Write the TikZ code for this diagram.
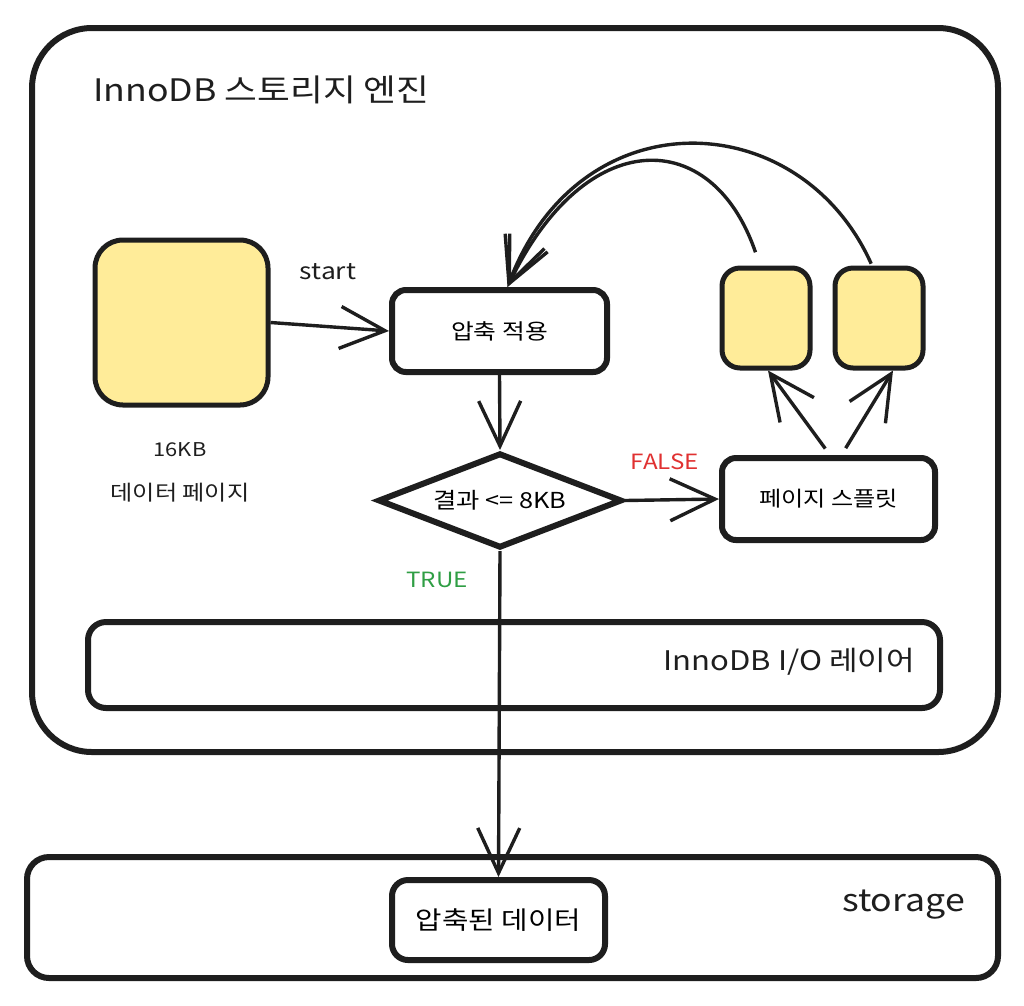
\documentclass[tikz,border=0pt]{standalone}
\usepackage{fontspec}
\setmainfont[FakeStretch=1.15]{Noto Sans CJK KR}
\usetikzlibrary{shapes.geometric,arrows.meta}
\definecolor{ink}{HTML}{1E1E1E}
\definecolor{note}{HTML}{FFEC99}
\definecolor{falsered}{HTML}{E03131}
\definecolor{truegreen}{HTML}{2F9E44}
\begin{document}
\begin{tikzpicture}[x=1pt,y=-1pt,
  frame/.style={draw=ink, line width=6pt, inner sep=0pt},
  box/.style={draw=ink, line width=6pt, rounded corners=14pt, inner sep=0pt, fill=white},
  paper/.style={draw=ink, line width=5pt, fill=note, inner sep=0pt},
  conn/.style={draw=ink, line width=3.4pt, -{Straight Barb[length=45pt,width=42pt,line width=3.4pt]}},
  lbl/.style={text=ink, inner sep=0pt, font=\fontsize{21}{25}\selectfont},
]
\useasboundingbox (0,0) rectangle (1024,1005);
% outer engine frame
\node[frame, rounded corners=60pt, minimum width=966pt, minimum height=724pt] (eng) at (515,390) {};
\node[lbl, anchor=west, font=\fontsize{31}{36}\selectfont] (title) at (93,90) {InnoDB 스토리지 엔진};
% 16KB page
\node[paper, rounded corners=28pt, minimum width=173pt, minimum height=165pt] (pg) at (181.5,322.5) {};
\node[lbl, font=\fontsize{19}{23}\selectfont] (kb) at (180,450) {16KB};
\node[lbl] (pglbl) at (180,493) {데이터 페이지};
% apply compression
\node[box, minimum width=215pt, minimum height=82pt, font=\fontsize{21.5}{25}\selectfont] (ap) at (499.5,331) {압축 적용};
% decision
\node[draw=ink, line width=6pt, diamond, shape aspect=2.57, fill=white, inner sep=0pt, minimum width=244pt, minimum height=95pt, font=\fontsize{22}{26}\selectfont] (dm) at (500,500.5) {결과 <= 8KB};
% split
\node[box, minimum width=213pt, minimum height=82pt, font=\fontsize{21}{25}\selectfont] (sp) at (828.5,499) {페이지 스플릿};
% split pages
\node[paper, rounded corners=18pt, minimum width=88pt, minimum height=100pt] (s1) at (766,318) {};
\node[paper, rounded corners=18pt, minimum width=88pt, minimum height=100pt] (s2) at (879,318) {};
% labels
\node[lbl, font=\fontsize{23}{27}\selectfont] (st) at (328,272) {start};
\node[lbl, text=falsered] (fl) at (665,462) {FALSE};
\node[lbl, text=truegreen] (tr) at (437,580) {TRUE};
% IO layer
\node[box, rounded corners=18pt, minimum width=852pt, minimum height=86pt] (io) at (514,665) {};
\node[lbl, anchor=east, font=\fontsize{27}{31}\selectfont] (iol) at (915,662) {InnoDB I/O 레이어};
% storage
\node[box, rounded corners=22pt, minimum width=971pt, minimum height=121pt] (stor) at (512.5,917.5) {};
\node[lbl, anchor=east, font=\fontsize{31}{35}\selectfont] (storl) at (965,905) {storage};
\node[box, rounded corners=16pt, minimum width=213pt, minimum height=80pt, font=\fontsize{25}{30}\selectfont] (cp) at (498.5,920) {압축된 데이터};
% connectors
\draw[conn] (pg.east) -- (ap.west);
\draw[conn] (ap.south) -- (dm.north);
\draw[conn] (dm.east) -- (sp.west);
\draw[conn] (dm.south) -- (cp.north);
\draw[conn, shorten <=8pt] ([xshift=1.5pt]sp.north) -- ([xshift=2pt]s1.south);
\draw[conn, shorten <=8pt] ([xshift=13pt]sp.north) -- ([xshift=14pt]s2.south);
\draw[conn, shorten <=14pt] ([xshift=-6pt]s1.north) .. controls (712,125) and (585,125) .. ([xshift=8pt]ap.north);
\draw[conn, shorten <=2pt] ([xshift=-7pt]s2.north) .. controls (800,105) and (580,95) .. ([xshift=8pt]ap.north);
\end{tikzpicture}
\end{document}
